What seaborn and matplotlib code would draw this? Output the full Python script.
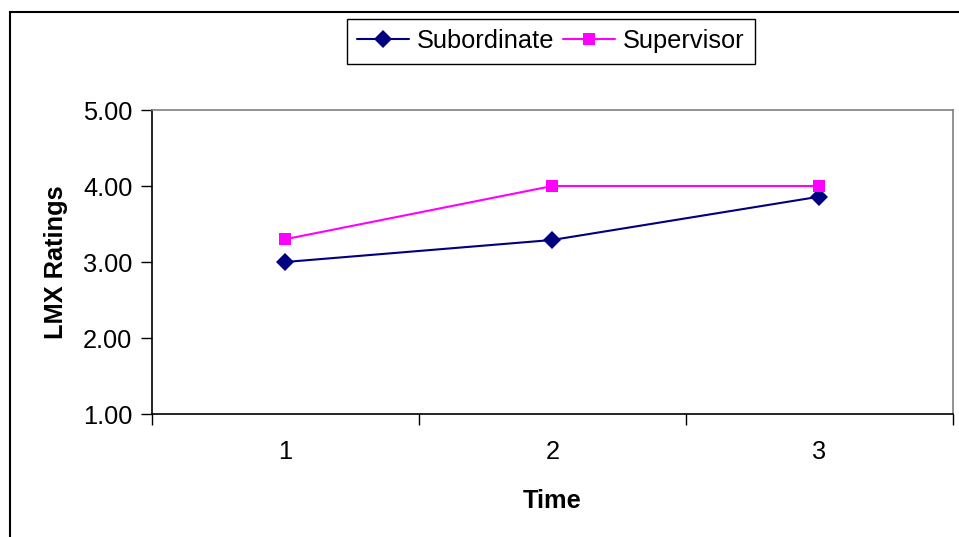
import matplotlib
matplotlib.use("Agg")
import matplotlib.pyplot as plt
import seaborn as sns
import pandas as pd
from matplotlib.patches import Rectangle
from matplotlib.lines import Line2D

times = ["1", "2", "3"]
subordinate = [3.00, 3.29, 3.86]
supervisor = [3.30, 4.00, 4.00]
y_ticks = [1.00, 2.00, 3.00, 4.00, 5.00]

sns.set_theme(style="white")
plt.rcParams['font.family'] = ['Liberation Sans', 'DejaVu Sans']
plt.rcParams['text.color'] = 'black'
plt.rcParams['axes.labelcolor'] = 'black'
plt.rcParams['xtick.color'] = 'black'
plt.rcParams['ytick.color'] = 'black'

FS = 18.3

df = pd.DataFrame({
    "Time": list(range(len(times))) * 2,
    "Rating": subordinate + supervisor,
    "Series": ["Subordinate"] * len(times) + ["Supervisor"] * len(times),
})

fig = plt.figure(figsize=(9.59, 5.37), dpi=100)
fig.patch.set_facecolor("white")
ax = fig.add_axes([151.7/959, 1-414/537, (953-151.7)/959, (414-110)/537])

palette = {"Subordinate": "#000080", "Supervisor": "#FF00FF"}
markers = {"Subordinate": "D", "Supervisor": "s"}
sns.lineplot(data=df, x="Time", y="Rating", hue="Series", style="Series",
             palette=palette, markers=markers, dashes=False, markersize=9,
             linewidth=1.5, markeredgewidth=0, ax=ax, legend=False)

ax.set_xlim(-0.5, len(times) - 0.5)
ax.set_ylim(1.0, 5.0)
ax.set_yticks(y_ticks)
ax.set_yticklabels([f"{v:.2f}" for v in y_ticks], fontsize=FS)
ax.set_xticks(range(len(times)))
ax.set_xticklabels(times, fontsize=FS)
ax.set_xticks([i - 0.5 for i in range(len(times) + 1)], minor=True)
ax.tick_params(axis="x", which="major", length=0, pad=19)
ax.tick_params(axis="x", which="minor", length=8, width=1, color="black", direction="out", bottom=True)
ax.tick_params(axis="y", which="major", length=8, width=1, color="black", direction="out", left=True, pad=6)
ax.set_xlabel("Time", fontsize=FS, fontweight="bold", labelpad=18)
ax.set_ylabel("LMX Ratings", fontsize=FS, fontweight="bold", labelpad=11)

for s in ["left", "bottom"]:
    ax.spines[s].set_color("black")
    ax.spines[s].set_linewidth(1.2)
for s in ["top", "right"]:
    ax.spines[s].set_color("#808080")
    ax.spines[s].set_linewidth(1.2)

handles = [Line2D([], [], color=palette[k], marker=markers[k], markersize=9,
                  markeredgewidth=0, linewidth=1.5) for k in ["Subordinate", "Supervisor"]]
leg = fig.legend(handles, ["Subordinate", "Supervisor"], loc="center",
                 bbox_to_anchor=(551/959, 1-41.3/537), ncol=2, fontsize=FS,
                 frameon=True, fancybox=False, framealpha=1, edgecolor="black",
                 handlelength=2.05, handletextpad=0.3, columnspacing=0.35,
                 borderpad=0.42, borderaxespad=0)
leg.get_frame().set_linewidth(1.0)

fig.patches.append(Rectangle((10/959, -0.1), 1.2, 1 - 12/537 + 0.1,
                             transform=fig.transFigure, fill=False,
                             edgecolor="black", linewidth=1.5, zorder=0))

fig.savefig("out.png", dpi=100)
